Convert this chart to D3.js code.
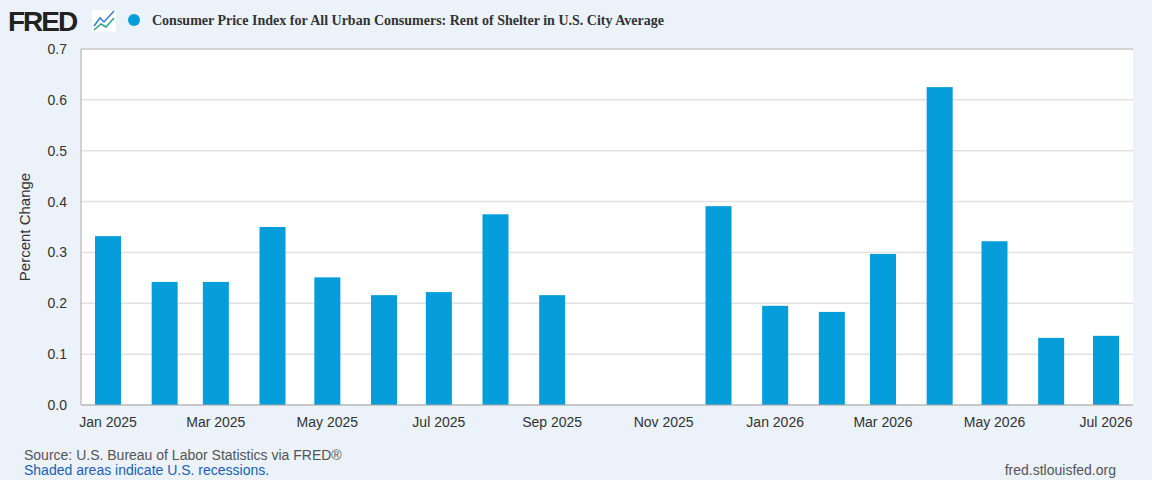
<!DOCTYPE html>
<html><head><meta charset="utf-8">
<script src="https://cdn.jsdelivr.net/npm/d3@7"></script>
<style>
body{margin:0;background:#ebf2fa;font-family:"Liberation Sans",Arial,sans-serif;}
</style></head><body>
<svg id="c" width="1152" height="480"></svg>
<script>
const months = ['2025-01','2025-02','2025-03','2025-04','2025-05','2025-06','2025-07','2025-08','2025-09','2025-10','2025-11','2025-12','2026-01','2026-02','2026-03','2026-04','2026-05','2026-06','2026-07']
const values = [0.332, 0.242, 0.242, 0.35, 0.251, 0.216, 0.222, 0.375, 0.216, null, null, 0.391, 0.195, 0.183, 0.297, 0.625, 0.322, 0.132, 0.136]
const yTicks = [0, 0.1, 0.2, 0.3, 0.4, 0.5, 0.6, 0.7]
const title = 'Consumer Price Index for All Urban Consumers: Rent of Shelter in U.S. City Average'

const svg = d3.select('#c')
const parse = d3.timeParse('%Y-%m')
const data = months.map((m, i) => ({ date: parse(m), v: values[i] }))

const pLeft = 81, pRight = 1133, pTop = 49, pBottom = 405
svg.append('rect').attr('x', pLeft).attr('y', pTop).attr('width', pRight - pLeft).attr('height', pBottom - pTop).attr('fill', '#fff')

const x = d3.scaleTime().domain([parse('2025-01'), parse('2026-07')]).range([108, 1106])
const y = d3.scaleLinear().domain([0, 0.7]).range([pBottom, pTop])

// grid
svg.selectAll('.grid').data(yTicks).join('line')
  .attr('x1', pLeft).attr('x2', pRight)
  .attr('y1', d => y(d)).attr('y2', d => y(d))
  .attr('stroke-width', 1.5)
  .attr('stroke', d => d === 0.7 ? '#c8c8c8' : '#e1e1e1')

svg.selectAll('.ylab').data(yTicks).join('text')
  .attr('x', 67).attr('y', d => y(d) + 5)
  .attr('text-anchor', 'end').attr('font-size', 14).attr('fill', '#333')
  .text(d => d.toFixed(1))

svg.append('line').attr('x1', pLeft).attr('x2', pLeft).attr('y1', pTop).attr('y2', pBottom).attr('stroke', '#aaa')

// bars
svg.selectAll('.bar').data(data.filter(d => d.v != null)).join('rect')
  .attr('x', d => x(d.date) - 13).attr('width', 26)
  .attr('y', d => y(d.v)).attr('height', d => pBottom - y(d.v))
  .attr('fill', '#069ddb')

svg.append('line').attr('x1', pLeft).attr('x2', pRight).attr('y1', pBottom).attr('y2', pBottom).attr('stroke', '#aaa')

// x labels
const fmt = d3.timeFormat('%b %Y')
svg.selectAll('.xlab').data(data.filter((d, i) => i % 2 === 0)).join('text')
  .attr('x', d => x(d.date)).attr('y', 427)
  .attr('text-anchor', 'middle').attr('font-size', 14).attr('fill', '#333')
  .text(d => fmt(d.date))

svg.append('text').attr('transform', 'translate(30,227) rotate(-90)')
  .attr('text-anchor', 'middle').attr('font-size', 15).attr('fill', '#333').text('Percent Change')

// header
svg.append('text').attr('x', 8).attr('y', 31).attr('font-size', 28).attr('font-weight', 'bold')
  .attr('letter-spacing', -2).attr('fill', '#222').text('FRED')
svg.append('rect').attr('x', 92).attr('y', 10).attr('width', 24).attr('height', 22).attr('fill', '#fff')
svg.append('path').attr('d', 'M94,26 L100,18 L104,22 L114,11').attr('fill', 'none').attr('stroke', '#3a7bd5').attr('stroke-width', 1.5)
svg.append('path').attr('d', 'M94,30 L101,24 L106,27 L114,18').attr('fill', 'none').attr('stroke', '#2ca58d').attr('stroke-width', 1.5)
svg.append('circle').attr('cx', 134).attr('cy', 20).attr('r', 6).attr('fill', '#069ddb')
svg.append('text').attr('x', 152).attr('y', 25).attr('font-family', 'Liberation Serif, Times New Roman, serif')
  .attr('font-weight', 'bold').attr('font-size', 14).attr('fill', '#333').text(title)

// footer
svg.append('text').attr('x', 24).attr('y', 460).attr('font-size', 14).attr('fill', '#555').text('Source: U.S. Bureau of Labor Statistics via FRED®')
svg.append('text').attr('x', 24).attr('y', 475).attr('font-size', 14).attr('fill', '#1a5fb4').text('Shaded areas indicate U.S. recessions.')
svg.append('text').attr('x', 1116).attr('y', 475).attr('text-anchor', 'end').attr('font-size', 14).attr('fill', '#555').text('fred.stlouisfed.org')
</script>
</body></html>
